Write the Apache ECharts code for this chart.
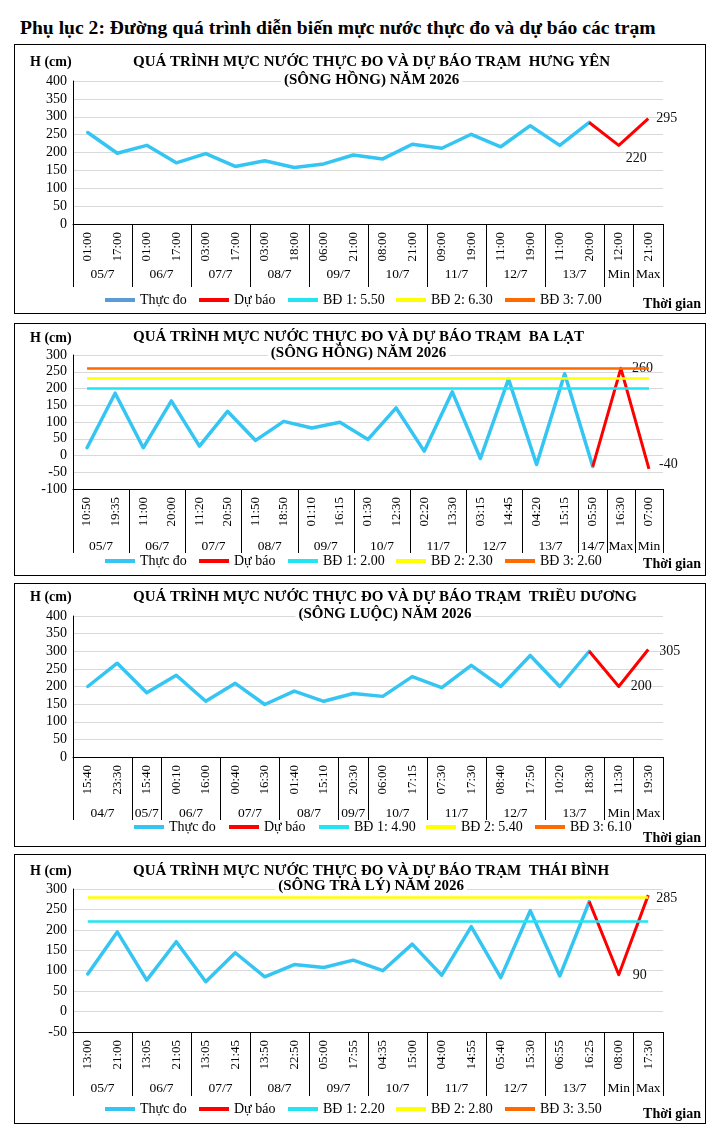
<!DOCTYPE html>
<html>
<head>
<meta charset="utf-8">
<script src="https://cdn.jsdelivr.net/npm/echarts@6.0.0/dist/echarts.min.js"></script>
<style>
body { margin:0; background:#fff; width:719px; height:1141px; position:relative; font-family:"Liberation Serif", serif; }
#heading { position:absolute; left:20px; top:17px; font-size:19.6px; font-weight:bold; line-height:22px; white-space:nowrap; color:#000; }
.box { position:absolute; left:14px; width:692px; border:1px solid #000; box-sizing:border-box; }
</style>
</head>
<body>
<div id="heading">Phụ lục 2: Đường quá trình diễn biến mực nước thực đo và dự báo các trạm</div>
<div class="box" id="hungyen" style="top:44px;height:270px"></div>
<div class="box" id="balat" style="top:323px;height:253px"></div>
<div class="box" id="trieuduong" style="top:583px;height:264px"></div>
<div class="box" id="thaibinh" style="top:854px;height:270px"></div>
<script>
var SERIF = '"Liberation Serif", "Times New Roman", serif';

// Trạm Hưng Yên (sông Hồng)
var hyTimes = ['01:00','17:00','01:00','17:00','03:00','17:00','03:00','18:00','06:00','21:00','08:00','21:00','09:00','19:00','11:00','19:00','11:00','20:00'];
var hyObs = [256, 198, 220, 171, 197, 161, 177, 158, 168, 193, 182, 223, 212, 251, 216, 275, 220, 284];
var hyFcTimes = ['12:00', '21:00'];
var hyFc = [220, 295];
var hyDates = ['05/7','06/7','07/7','08/7','09/7','10/7','11/7','12/7','13/7','Min','Max'];
var hySpans = [2, 2, 2, 2, 2, 2, 2, 2, 2, 1, 1];
var hyBD = [550, 630, 700];

// Trạm Ba Lạt (sông Hồng)
var blTimes = ['10:50','19:35','11:00','20:00','11:20','20:50','11:50','18:50','01:10','16:15','01:30','12:30','02:20','13:30','03:15','14:45','04:20','15:15','05:50'];
var blObs = [23, 186, 23, 163, 28, 132, 45, 102, 82, 99, 48, 142, 13, 190, -9, 228, -27, 244, -33];
var blFcTimes = ['16:30', '07:00'];
var blFc = [260, -40];
var blDates = ['05/7','06/7','07/7','08/7','09/7','10/7','11/7','12/7','13/7','14/7','Max','Min'];
var blSpans = [2, 2, 2, 2, 2, 2, 2, 2, 2, 1, 1, 1];
var blBD = [200, 230, 260];

// Trạm Triều Dương (sông Luộc)
var tdTimes = ['15:40','23:30','15:40','00:10','16:00','00:40','16:30','01:40','15:10','20:30','06:00','17:15','07:30','17:30','08:40','17:50','10:20','18:30'];
var tdObs = [200, 266, 182, 232, 158, 209, 149, 187, 158, 180, 172, 228, 197, 260, 200, 288, 200, 300];
var tdFcTimes = ['11:30', '19:30'];
var tdFc = [200, 305];
var tdDates = ['04/7','05/7','06/7','07/7','08/7','09/7','10/7','11/7','12/7','13/7','Min','Max'];
var tdSpans = [2, 1, 2, 2, 2, 1, 2, 2, 2, 2, 1, 1];
var tdBD = [490, 540, 610];

// Trạm Thái Bình (sông Trà Lý)
var tbTimes = ['13:00','21:00','13:05','21:05','13:05','21:45','13:50','22:50','05:00','17:55','04:35','15:00','04:00','14:55','05:40','15:30','06:55','16:25'];
var tbObs = [92, 195, 77, 171, 73, 144, 85, 115, 108, 126, 100, 165, 89, 208, 83, 247, 87, 269];
var tbFcTimes = ['08:00', '17:30'];
var tbFc = [90, 285];
var tbDates = ['05/7','06/7','07/7','08/7','09/7','10/7','11/7','12/7','13/7','Min','Max'];
var tbSpans = [2, 2, 2, 2, 2, 2, 2, 2, 2, 1, 1];
var tbBD = [220, 280, 350];

var OBS_COLOR = '#35C5F3';
var FC_COLOR = '#FF0000';
var BD_COLORS = ['#22E4F2', '#FFFF00', '#FF6A00'];
var TITLE_FONT = 'bold 15px ' + SERIF;
var TITLE_LEFT = 118;

var measureCtx = document.createElement('canvas').getContext('2d');
function textWidth(txt, font) {
    measureCtx.font = font;
    return measureCtx.measureText(txt).width;
}

function drawStation(domId, st, lay) {
    var chart = echarts.init(document.getElementById(domId), null, {renderer: 'canvas'});
    var cats = st.times.concat(st.fcTimes);
    var n = cats.length;
    var nObs = st.obs.length;

    // group starts -> separator ticks, group centres -> date labels
    var starts = [];
    var dateCats = [];
    for (var k = 0; k < 2 * n + 1; k++) dateCats.push('');
    var pos = 0;
    st.spans.forEach(function (s, i) {
        starts.push(pos);
        dateCats[2 * pos + s] = st.dates[i];
        pos += s;
    });

    var fcData = [[nObs - 1, st.obs[nObs - 1]]];
    st.fc.forEach(function (v, i) {
        fcData.push({
            value: [nObs + i, v],
            label: {show: true, position: 'right', offset: lay.fcLabel[i]}
        });
    });

    var bdNames = st.bd.map(function (v, i) {
        return 'BĐ ' + (i + 1) + ': ' + (v / 100).toFixed(2);
    });

    var series = [];
    st.bd.forEach(function (v, i) {
        var s = {
            name: bdNames[i],
            type: 'line',
            data: [],
            z: 1,
            itemStyle: {color: BD_COLORS[i]},
            lineStyle: {color: BD_COLORS[i], width: 2.5}
        };
        if (v <= st.yMax) {
            s.markLine = {
                silent: true,
                symbol: 'none',
                label: {show: false},
                lineStyle: {color: BD_COLORS[i], width: 2.5, type: 'solid'},
                emphasis: {disabled: true},
                data: [[{coord: [0, v]}, {coord: [n - 1, v]}]]
            };
        }
        series.push(s);
    });
    series.push({
        name: 'Thực đo',
        type: 'line',
        data: st.obs,
        z: 3,
        showSymbol: false,
        itemStyle: {color: OBS_COLOR},
        lineStyle: {color: OBS_COLOR, width: 3.5, join: 'round', cap: 'round'}
    });
    series.push({
        name: 'Dự báo',
        type: 'line',
        data: fcData,
        z: 4,
        symbol: 'circle',
        symbolSize: 0.1,
        itemStyle: {color: FC_COLOR},
        lineStyle: {color: FC_COLOR, width: 3, join: 'round'},
        label: {
            show: false,
            color: '#111',
            fontFamily: SERIF,
            fontSize: 14,
            formatter: function (p) { return p.value[1]; }
        }
    });

    // one legend per entry so each sits where the original puts it
    var legendNames = ['Thực đo', 'Dự báo'].concat(bdNames);
    var legends = legendNames.map(function (nm, i) {
        var item = {name: nm};
        if (i === 0) item.itemStyle = {color: lay.obsLegendColor};
        return {
            left: lay.legendLefts[i],
            top: lay.legendTop,
            padding: 0,
            icon: 'rect',
            itemWidth: 30,
            itemHeight: 4,
            selectedMode: false,
            textStyle: {fontFamily: SERIF, fontSize: 14, color: '#000'},
            data: [item]
        };
    });

    // title block: first line starts at TITLE_LEFT, second line centred under it
    var titleMid = TITLE_LEFT + textWidth(st.title[0], TITLE_FONT) / 2;

    chart.setOption({
        animation: false,
        grid: {left: 58, right: 42, top: lay.gridTop, bottom: lay.gridBottom},
        graphic: [
            {type: 'text', x: titleMid, y: lay.titleY[0], silent: true, z: 10,
             style: {text: st.title[0], font: TITLE_FONT, fill: '#000', textAlign: 'center', textVerticalAlign: 'middle'}},
            {type: 'text', x: titleMid, y: lay.titleY[1], silent: true, z: 10,
             style: {text: st.title[1], font: TITLE_FONT, fill: '#000', textAlign: 'center', textVerticalAlign: 'middle',
                     backgroundColor: '#fff', padding: [0, 3, 0, 3]}},
            {type: 'text', x: 15, y: lay.hY, silent: true,
             style: {text: 'H (cm)', font: 'bold 14px ' + SERIF, fill: '#000', textAlign: 'left', textVerticalAlign: 'middle'}},
            {type: 'text', x: 686, y: lay.tgY, silent: true,
             style: {text: 'Thời gian', font: 'bold 14px ' + SERIF, fill: '#000', textAlign: 'right', textVerticalAlign: 'middle'}}
        ],
        legend: legends,
        xAxis: [{
            type: 'category',
            data: cats,
            boundaryGap: true,
            axisLine: {onZero: false, lineStyle: {color: '#000', width: 1}},
            axisTick: {
                show: true,
                length: lay.tickLen,
                interval: function (idx) { return starts.indexOf(idx) >= 0; },
                lineStyle: {color: '#000', width: 1}
            },
            axisLabel: {interval: 0, rotate: 90, margin: 8, fontFamily: SERIF, fontSize: 13, color: '#000'},
            splitLine: {show: false}
        }, {
            type: 'category',
            data: dateCats,
            boundaryGap: false,
            position: 'bottom',
            offset: lay.dateDist - 13,
            axisLine: {show: false},
            axisTick: {show: false},
            axisLabel: {interval: 0, margin: 6, fontFamily: SERIF, fontSize: 13.5, color: '#000'},
            splitLine: {show: false}
        }],
        yAxis: {
            type: 'value',
            min: st.yMin,
            max: st.yMax,
            interval: 50,
            axisLine: {show: true, lineStyle: {color: '#000', width: 1}},
            axisTick: {show: false},
            axisLabel: {margin: 6, fontFamily: SERIF, fontSize: 14, color: '#000'},
            splitLine: {lineStyle: {color: '#D9D9D9', width: 1}}
        },
        series: series
    });
}

var LEGEND_LEFTS = [90, 184, 273, 381, 490];

drawStation('hungyen', {
    title: ['QUÁ TRÌNH MỰC NƯỚC THỰC ĐO VÀ DỰ BÁO TRẠM  HƯNG YÊN', '(SÔNG HỒNG) NĂM 2026'],
    times: hyTimes, obs: hyObs, fcTimes: hyFcTimes, fc: hyFc,
    dates: hyDates, spans: hySpans, bd: hyBD, yMin: 0, yMax: 400
}, {
    gridTop: 36, gridBottom: 89, titleY: [17, 35], hY: 17, legendLefts: LEGEND_LEFTS, legendTop: 248,
    tgY: 259, tickLen: 63, dateDist: 50, fcLabel: [[2, 13], [3, 0]], obsLegendColor: '#5B9BD5'
});

drawStation('balat', {
    title: ['QUÁ TRÌNH MỰC NƯỚC THỰC ĐO VÀ DỰ BÁO TRẠM  BA LẠT', '(SÔNG HỒNG) NĂM 2026'],
    times: blTimes, obs: blObs, fcTimes: blFcTimes, fc: blFc,
    dates: blDates, spans: blSpans, bd: blBD, yMin: -100, yMax: 300
}, {
    gridTop: 31, gridBottom: 86, titleY: [13, 29], hY: 14, legendLefts: LEGEND_LEFTS, legendTop: 230,
    tgY: 240, tickLen: 64, dateDist: 57, fcLabel: [[6, 0], [5, -5]], obsLegendColor: OBS_COLOR
});

drawStation('trieuduong', {
    title: ['QUÁ TRÌNH MỰC NƯỚC THỰC ĐO VÀ DỰ BÁO TRẠM  TRIỀU DƯƠNG', '(SÔNG LUỘC) NĂM 2026'],
    times: tdTimes, obs: tdObs, fcTimes: tdFcTimes, fc: tdFc,
    dates: tdDates, spans: tdSpans, bd: tdBD, yMin: 0, yMax: 400
}, {
    gridTop: 32, gridBottom: 89, titleY: [13, 30], hY: 13, legendLefts: [119, 214, 304, 411, 520], legendTop: 236,
    tgY: 254, tickLen: 63, dateDist: 56, fcLabel: [[7, 0], [6, 2]], obsLegendColor: OBS_COLOR
});

drawStation('thaibinh', {
    title: ['QUÁ TRÌNH MỰC NƯỚC THỰC ĐO VÀ DỰ BÁO TRẠM  THÁI BÌNH', '(SÔNG TRÀ LÝ) NĂM 2026'],
    times: tbTimes, obs: tbObs, fcTimes: tbFcTimes, fc: tbFc,
    dates: tbDates, spans: tbSpans, bd: tbBD, yMin: -50, yMax: 300
}, {
    gridTop: 34, gridBottom: 91, titleY: [16, 31], hY: 16, legendLefts: LEGEND_LEFTS, legendTop: 247,
    tgY: 259, tickLen: 64, dateDist: 56, fcLabel: [[9, 1], [3, 3]], obsLegendColor: OBS_COLOR
});
</script>
</body>
</html>
